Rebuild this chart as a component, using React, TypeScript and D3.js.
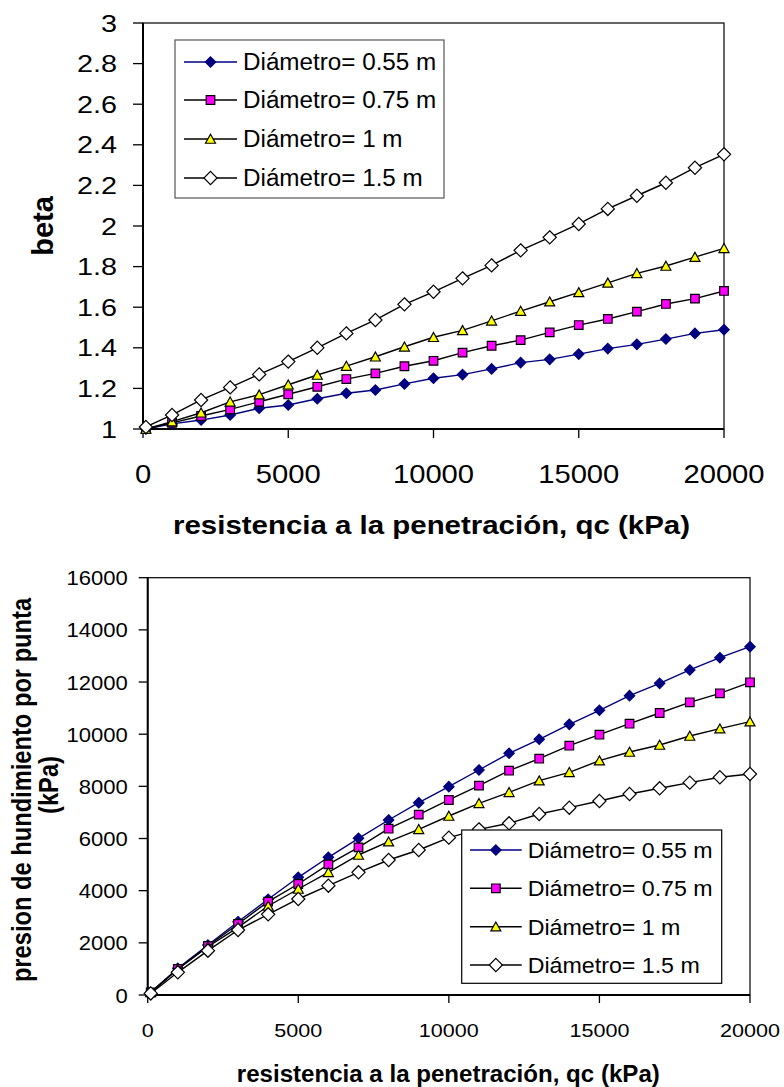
import React from 'react';
import * as d3 from 'd3';

// qc values (kPa) shared by both charts
const qc = [100, 1000, 2000, 3000, 4000, 5000, 6000, 7000, 8000, 9000, 10000, 11000, 12000, 13000, 14000, 15000, 16000, 17000, 18000, 19000, 20000];

const labels = ['Diámetro= 0.55 m', 'Diámetro= 0.75 m', 'Diámetro= 1 m', 'Diámetro= 1.5 m'];

// beta, top chart
const beta055 = [1.0, 1.025, 1.044, 1.069, 1.102, 1.118, 1.149, 1.176, 1.192, 1.222, 1.25, 1.268, 1.296, 1.327, 1.343, 1.369, 1.396, 1.417, 1.443, 1.471, 1.489];
const beta075 = [1.0, 1.03, 1.064, 1.097, 1.134, 1.171, 1.208, 1.246, 1.274, 1.309, 1.336, 1.376, 1.41, 1.438, 1.476, 1.512, 1.542, 1.578, 1.616, 1.642, 1.68];
const beta1 = [1.0, 1.036, 1.08, 1.134, 1.169, 1.218, 1.266, 1.31, 1.356, 1.405, 1.452, 1.486, 1.533, 1.581, 1.627, 1.673, 1.72, 1.767, 1.803, 1.847, 1.89];
const beta15 = [1.01, 1.069, 1.143, 1.205, 1.269, 1.332, 1.4, 1.471, 1.537, 1.614, 1.676, 1.742, 1.806, 1.88, 1.944, 2.01, 2.084, 2.149, 2.213, 2.287, 2.353];

// presion de hundimiento por punta (kPa), bottom chart
const q055 = [100, 1022, 1917, 2811, 3669, 4513, 5280, 6008, 6710, 7374, 7988, 8627, 9267, 9803, 10378, 10915, 11477, 11950, 12462, 12933, 13355];
const q075 = [100, 1000, 1879, 2722, 3578, 4256, 5010, 5662, 6377, 6914, 7477, 8026, 8601, 9061, 9559, 9981, 10403, 10813, 11222, 11567, 11989];
const q1 = [100, 990, 1850, 2595, 3413, 4064, 4704, 5368, 5879, 6352, 6863, 7349, 7771, 8218, 8538, 8985, 9317, 9586, 9931, 10211, 10480];
const q15 = [60, 870, 1699, 2492, 3094, 3681, 4191, 4704, 5176, 5560, 6033, 6352, 6583, 6940, 7182, 7439, 7707, 7925, 8141, 8347, 8474];

const xTicks = [0, 5000, 10000, 15000, 20000];
const betaTicks = [1, 1.2, 1.4, 1.6, 1.8, 2, 2.2, 2.4, 2.6, 2.8, 3];
const qTicks = [0, 2000, 4000, 6000, 8000, 10000, 12000, 14000, 16000];

const FONT = '"Liberation Sans", Arial, Helvetica, sans-serif';

// marker styles per series
const styles = [
  { kind: 'diamond', r: 5.2, fill: '#000080', stroke: '#000080', line: '#000080' },
  { kind: 'square', r: 4.3, fill: '#FF00FF', stroke: '#000000', line: '#000000' },
  { kind: 'triangle', r: 5, fill: '#FFFF00', stroke: '#000000', line: '#000000' },
  { kind: 'diamond', r: 6.6, fill: '#FFFFFF', stroke: '#000000', line: '#000000' },
];

const markerPath = (kind, r) => {
  if (kind === 'diamond') return `M0,${-r}L${r},0L0,${r}L${-r},0Z`;
  if (kind === 'square') return `M${-r},${-r}h${2 * r}v${2 * r}h${-2 * r}Z`;
  return `M0,${-r * 0.95}L${r},${r * 0.85}L${-r},${r * 0.85}Z`;
};

const Txt = ({ x, y, sx = 1, sy = 1, rot = 0, anchor = 'start', size, bold = false, len = undefined, children }) => (
  <text
    transform={`translate(${x},${y}) rotate(${rot}) scale(${sx},${sy})`}
    textAnchor={anchor}
    fontSize={size}
    fontWeight={bold ? 'bold' : 'normal'}
    fontFamily={FONT}
    fill="#000"
    textLength={len}
    lengthAdjust={len ? 'spacingAndGlyphs' : undefined}
  >
    {children}
  </text>
);

const Chart = ({ series, rect, yDomain, yTicks, yFmt, tk, legend }) => {
  const x = d3.scaleLinear().domain([0, 20000]).range([rect.x0, rect.x1]);
  const y = d3.scaleLinear().domain(yDomain).range([rect.y1, rect.y0]);
  const line = d3.line<number>().x((_, i) => x(qc[i])).y((d) => y(d));

  return (
    <g>
      {/* plot frame */}
      <rect x={rect.x0} y={rect.y0} width={rect.x1 - rect.x0} height={rect.y1 - rect.y0} fill="none" stroke="#000" strokeWidth={1.2} />
      {/* axes */}
      <line x1={rect.x0} x2={rect.x0} y1={rect.y0} y2={rect.y1} stroke="#000" strokeWidth={2} />
      <line x1={rect.x0} x2={rect.x1} y1={rect.y1} y2={rect.y1} stroke="#000" strokeWidth={2} />
      {yTicks.map((t) => (
        <g key={'y' + t}>
          <line x1={rect.x0 - tk.yLen} x2={rect.x0} y1={y(t)} y2={y(t)} stroke="#000" strokeWidth={1.3} />
          <Txt x={tk.yRight} y={y(t) + tk.yBase} anchor="end" size={tk.ySize} sx={tk.ySx}>
            {yFmt(t)}
          </Txt>
        </g>
      ))}
      {xTicks.map((t) => (
        <g key={'x' + t}>
          <line x1={x(t)} x2={x(t)} y1={rect.y1} y2={rect.y1 + tk.xLen} stroke="#000" strokeWidth={1.3} />
          <Txt x={x(t)} y={tk.xBase} anchor="middle" size={tk.xSize} sx={tk.xSx}>
            {String(t)}
          </Txt>
        </g>
      ))}
      {/* series */}
      {series.map((s, i) => (
        <g key={'s' + i}>
          <path d={line(s) || ''} fill="none" stroke={styles[i].line} strokeWidth={1.4} />
          {s.map((v, j) => (
            <path
              key={j}
              transform={`translate(${x(qc[j])},${y(v)})`}
              d={markerPath(styles[i].kind, styles[i].r)}
              fill={styles[i].fill}
              stroke={styles[i].stroke}
              strokeWidth={1.2}
            />
          ))}
        </g>
      ))}
      {/* legend */}
      <rect x={legend.x0} y={legend.y0} width={legend.x1 - legend.x0} height={legend.y1 - legend.y0} fill="#fff" stroke={legend.border} strokeWidth={1.2} />
      {labels.map((lab, i) => {
        const cy = legend.rows[i];
        return (
          <g key={'l' + i}>
            <line x1={legend.lx0} x2={legend.lx1} y1={cy} y2={cy} stroke={styles[i].line} strokeWidth={1.4} />
            <path
              transform={`translate(${(legend.lx0 + legend.lx1) / 2},${cy})`}
              d={markerPath(styles[i].kind, styles[i].r)}
              fill={styles[i].fill}
              stroke={styles[i].stroke}
              strokeWidth={1.2}
            />
            <Txt x={legend.tx} y={cy + legend.base} size={legend.size} sx={legend.sx}>
              {lab}
            </Txt>
          </g>
        );
      })}
    </g>
  );
};

export default function App() {
  return (
    <svg width={784} height={1087} style={{ position: 'absolute', left: 0, top: 0, background: '#fff' }}>
      {/* top chart: beta */}
      <Chart
        series={[beta055, beta075, beta1, beta15]}
        rect={{ x0: 143, x1: 724, y0: 23, y1: 429 }}
        yDomain={[1, 3]}
        yTicks={betaTicks}
        yFmt={(t) => String(+t.toFixed(1))}
        tk={{ yLen: 10, yRight: 117, yBase: 8.6, ySize: 24, ySx: 1.2, xLen: 9, xBase: 483, xSize: 25.6, xSx: 1.14 }}
        legend={{ x0: 175, x1: 444, y0: 40, y1: 198, border: '#555', rows: [62, 100, 139, 178], lx0: 184, lx1: 237, tx: 243, base: 8.3, size: 23.3, sx: 1.04 }}
      />
      <Txt x={431.5} y={534} anchor="middle" size={25.6} bold len={517}>
        resistencia a la penetración, qc (kPa)
      </Txt>
      <Txt x={53} y={226} rot={-90} anchor="middle" size={29} bold>
        beta
      </Txt>

      {/* bottom chart: presion de hundimiento */}
      <Chart
        series={[q055, q075, q1, q15]}
        rect={{ x0: 147.7, x1: 750, y0: 577.7, y1: 995 }}
        yDomain={[0, 16000]}
        yTicks={qTicks}
        yFmt={(t) => String(t)}
        tk={{ yLen: 9, yRight: 127.7, yBase: 7.5, ySize: 21, ySx: 1.05, xLen: 8, xBase: 1037, xSize: 18.6, xSx: 1.16 }}
        legend={{ x0: 461.7, x1: 721.7, y0: 830, y1: 983.3, border: '#000', rows: [850, 888.3, 926.7, 965], lx0: 470, lx1: 521.7, tx: 527.7, base: 7.8, size: 21.9, sx: 1.06 }}
      />
      <Txt x={448.3} y={1081.5} anchor="middle" size={23.3} bold len={423}>
        resistencia a la penetración, qc (kPa)
      </Txt>
      <Txt x={31} y={790} rot={-90} anchor="middle" size={23.7} bold sy={1.18}>
        presion de hundimiento por punta
      </Txt>
      <Txt x={58} y={785} rot={-90} anchor="middle" size={23.7} bold sy={1.18}>
        (kPa)
      </Txt>
    </svg>
  );
}
